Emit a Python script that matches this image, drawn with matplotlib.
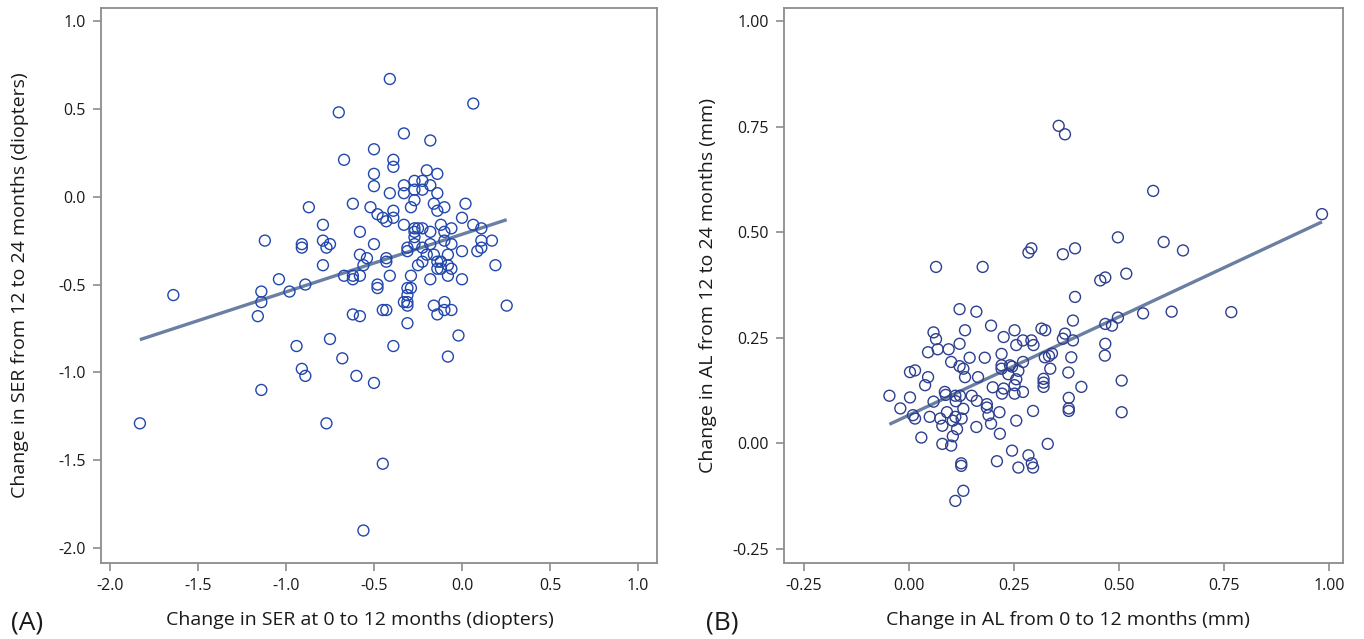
import numpy as np
import matplotlib
matplotlib.use("Agg")
import matplotlib.pyplot as plt
from matplotlib.ticker import FormatStrFormatter

plt.rcParams['font.family'] = ['Open Sans', 'DejaVu Sans']
plt.rcParams['axes.unicode_minus'] = False

# Panel A: change in SER 0-12 months (x) vs 12-24 months (y), diopters
ser_x = [-1.83, -1.64, -1.14, -1.14, -1.16, -1.14, -1.12, -1.04, -0.98, -0.89,
         -0.91, -0.91, -0.87, -0.94, -0.91, -0.89, -0.79, -0.79, -0.77, -0.75,
         -0.79, -0.75, -0.68, -0.77, -0.70, -0.67, -0.62, -0.58, -0.58, -0.54,
         -0.56, -0.67, -0.62, -0.62, -0.58, -0.62, -0.58, -0.60, -0.50, -0.45,
         -0.56, -0.50, -0.50, -0.50, -0.52, -0.48, -0.45, -0.43, -0.39, -0.39,
         -0.50, -0.43, -0.43, -0.41, -0.48, -0.48, -0.45, -0.43, -0.41, -0.39,
         -0.39, -0.41, -0.39, 0.064, -0.33, -0.18, -0.20, -0.14, -0.33, -0.27,
         -0.225, -0.27, -0.225, -0.18, -0.33, -0.14, -0.27, -0.29, -0.16, -0.14,
         -0.10, 0.02, 0.00, 0.064, 0.11, 0.11, 0.17, 0.087, 0.11, 0.19,
         0.254, -0.33, -0.27, -0.25, -0.225, -0.27, -0.27, -0.27, -0.18, -0.12,
         -0.10, -0.10, -0.06, -0.06, -0.18, -0.225, -0.31, -0.31, -0.16, -0.08,
         0.00, -0.20, -0.14, -0.12, -0.14, -0.12, -0.08, -0.06, -0.25, -0.225,
         -0.08, 0.00, -0.18, -0.29, -0.31, -0.29, -0.31, -0.31, -0.33, -0.31,
         -0.16, -0.10, -0.10, -0.06, -0.14, -0.31, -0.02, -0.08]
ser_y = [-1.29, -0.56, -0.54, -0.60, -0.68, -1.10, -0.25, -0.47, -0.54, -0.50,
         -0.27, -0.29, -0.06, -0.85, -0.98, -1.02, -0.16, -0.25, -0.29, -0.27,
         -0.39, -0.81, -0.92, -1.29, 0.48, 0.21, -0.04, -0.20, -0.33, -0.35,
         -0.39, -0.45, -0.45, -0.47, -0.45, -0.67, -0.68, -1.02, -1.06, -1.52,
         -1.90, 0.27, 0.13, 0.06, -0.06, -0.10, -0.12, -0.14, -0.08, -0.12,
         -0.27, -0.35, -0.37, -0.45, -0.50, -0.52, -0.645, -0.645, 0.67, 0.21,
         0.17, 0.02, -0.85, 0.53, 0.36, 0.32, 0.15, 0.13, 0.065, 0.09,
         0.09, 0.04, 0.04, 0.065, 0.02, 0.02, -0.02, -0.06, -0.04, -0.08,
         -0.06, -0.04, -0.12, -0.16, -0.18, -0.25, -0.25, -0.31, -0.29, -0.39,
         -0.62, -0.16, -0.18, -0.18, -0.18, -0.20, -0.23, -0.27, -0.20, -0.16,
         -0.20, -0.25, -0.18, -0.27, -0.27, -0.29, -0.29, -0.31, -0.33, -0.33,
         -0.31, -0.33, -0.37, -0.37, -0.41, -0.41, -0.39, -0.41, -0.39, -0.37,
         -0.45, -0.47, -0.47, -0.45, -0.52, -0.52, -0.56, -0.60, -0.60, -0.62,
         -0.62, -0.60, -0.645, -0.645, -0.67, -0.72, -0.79, -0.91]

# Panel B: change in AL 0-12 months (x) vs 12-24 months (y), mm
al_x = [0.356, 0.371, 0.581, 0.497, 0.606, 0.652, 0.284, 0.291, 0.366, 0.395,
        0.064, 0.175, 0.455, 0.467, 0.517, 0.395, 0.120, 0.160, 0.557, 0.625,
        0.390, 0.497, 0.467, 0.483, 0.058, 0.064, 0.133, 0.195, 0.251, 0.225,
        0.315, 0.324, 0.371, 0.366, 0.390, 0.271, 0.291, 0.296, 0.255, 0.120,
        0.467, 0.045, 0.068, 0.094, 0.466, 0.220, 0.144, 0.180, 0.100, 0.120,
        0.129, 0.220, 0.220, 0.240, 0.245, 0.236, 0.271, 0.260, 0.323, 0.333,
        0.340, 0.336, 0.386, 0.379, 0.002, 0.014, 0.045, 0.038, 0.133, 0.164,
        0.255, 0.251, 0.320, 0.320, 0.320, 0.410, 0.506, -0.047, 0.002, 0.085,
        0.087, 0.110, 0.121, 0.111, 0.058, 0.149, 0.161, 0.199, 0.225, 0.221,
        0.251, 0.271, 0.185, 0.185, 0.189, 0.215, 0.295, 0.380, 0.380, 0.380,
        0.506, -0.021, 0.009, 0.014, 0.049, 0.074, 0.079, 0.090, 0.110, 0.104,
        0.125, 0.129, 0.114, 0.104, 0.160, 0.195, 0.255, 0.216, 0.029, 0.079,
        0.100, 0.330, 0.245, 0.284, 0.292, 0.295, 0.209, 0.260, 0.124, 0.124,
        0.129, 0.110, 0.983, 0.767]
al_y = [0.752, 0.732, 0.598, 0.488, 0.477, 0.457, 0.452, 0.462, 0.448, 0.462,
        0.418, 0.418, 0.386, 0.393, 0.402, 0.347, 0.318, 0.312, 0.308, 0.312,
        0.291, 0.298, 0.283, 0.279, 0.263, 0.247, 0.268, 0.279, 0.268, 0.252,
        0.272, 0.268, 0.260, 0.248, 0.244, 0.244, 0.244, 0.233, 0.233, 0.236,
        0.236, 0.216, 0.223, 0.223, 0.208, 0.212, 0.203, 0.203, 0.193, 0.183,
        0.177, 0.185, 0.177, 0.185, 0.182, 0.164, 0.193, 0.172, 0.204, 0.207,
        0.213, 0.177, 0.204, 0.168, 0.169, 0.173, 0.157, 0.138, 0.157, 0.157,
        0.152, 0.138, 0.153, 0.144, 0.134, 0.134, 0.149, 0.113, 0.109, 0.122,
        0.115, 0.113, 0.113, 0.100, 0.099, 0.113, 0.101, 0.133, 0.130, 0.118,
        0.118, 0.122, 0.093, 0.085, 0.067, 0.074, 0.077, 0.108, 0.083, 0.077,
        0.074, 0.083, 0.067, 0.059, 0.063, 0.059, 0.042, 0.074, 0.063, 0.054,
        0.059, 0.082, 0.034, 0.017, 0.039, 0.047, 0.054, 0.023, 0.014, -0.001,
        -0.005, -0.001, -0.017, -0.028, -0.047, -0.057, -0.042, -0.057, -0.047, -0.053,
        -0.112, -0.136, 0.543, 0.311]

ser_xticks = [-2.0, -1.5, -1.0, -0.5, 0.0, 0.5, 1.0]
ser_yticks = [1.0, 0.5, 0.0, -0.5, -1.0, -1.5, -2.0]
al_xticks = [-0.25, 0.00, 0.25, 0.50, 0.75, 1.00]
al_yticks = [1.00, 0.75, 0.50, 0.25, 0.00, -0.25]

W, H = 1364, 639
fig = plt.figure(figsize=(W / 100, H / 100), dpi=100)

frame_col = '#8a8d91'
line_col = '#6a7fa2'
txt_col = '#1a1a1a'


def panel(rect, x, y, xlim, ylim, xticks, yticks, fmt, xlabel, ylabel, mcol,
          tag, tagx, xlab_cx, ylab_cx):
    ax = fig.add_axes(rect)
    x = np.asarray(x)
    y = np.asarray(y)
    ax.scatter(x, y, s=62, facecolors='none', edgecolors=mcol, linewidths=1.0, zorder=3)
    b, a = np.polyfit(x, y, 1)
    xs = np.array([x.min(), x.max()])
    ax.plot(xs, a + b * xs, color=line_col, lw=2.4, zorder=2, solid_capstyle='butt')
    ax.set_xlim(*xlim)
    ax.set_ylim(*ylim)
    ax.set_xticks(xticks)
    ax.set_yticks(yticks)
    ax.xaxis.set_major_formatter(FormatStrFormatter(fmt))
    ax.yaxis.set_major_formatter(FormatStrFormatter(fmt))
    for s in ax.spines.values():
        s.set_color(frame_col)
        s.set_linewidth(1.3)
    ax.tick_params(direction='out', length=6, width=1.2, color=frame_col,
                   labelsize=11.5, labelcolor=txt_col, pad=5)
    cy = 1 - (8 + 563) / 2 / H
    fig.text(xlab_cx / W, 1 - 620 / H, xlabel, fontsize=14, color=txt_col,
             ha='center', va='center')
    fig.text(ylab_cx / W, cy, ylabel, fontsize=14, color=txt_col,
             ha='center', va='center', rotation=90)
    fig.text(tagx / W, 1 - 623 / H, tag, fontsize=19, va='center', ha='left', color=txt_col)
    return ax


panel([101 / W, (H - 563) / H, 556 / W, 555 / H], ser_x, ser_y,
      (-2.051, 1.108), (-2.085, 1.074), ser_xticks, ser_yticks, '%.1f',
      'Change in SER at 0 to 12 months (diopters)',
      'Change in SER from 12 to 24 months (diopters)', '#2147ad', '(A)', 11,
      360, 20)

panel([784 / W, (H - 563) / H, 559 / W, 555 / H], al_x, al_y,
      (-0.298, 1.033), (-0.283, 1.031), al_xticks, al_yticks, '%.2f',
      'Change in AL from 0 to 12 months (mm)',
      'Change in AL from 12 to 24 months (mm)', '#2d3f8e', '(B)', 706,
      1068, 708)

fig.savefig('out.png', dpi=100, facecolor='white')
